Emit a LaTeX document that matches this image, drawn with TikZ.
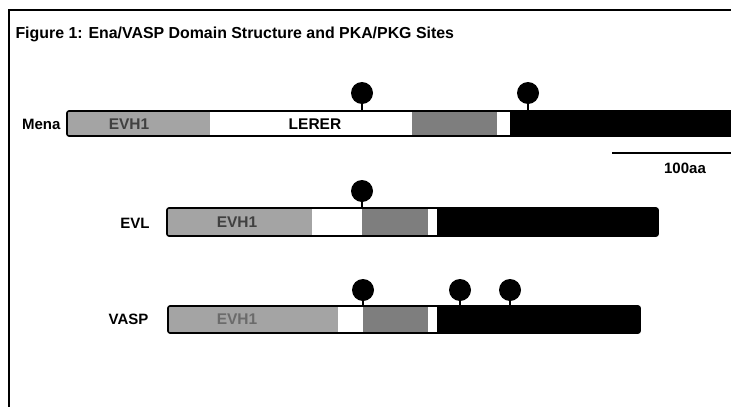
\documentclass[tikz,border=0pt]{standalone}
\usepackage{fontspec}
\setmainfont{Liberation Sans}
\usepackage{tikz}
\definecolor{EvhGray}{HTML}{A4A4A4}
\definecolor{ProGray}{HTML}{7E7E7E}

\begin{document}
\begin{tikzpicture}[x=1pt,y=-1pt,
  evh/.style={fill=EvhGray},
  pro/.style={fill=ProGray},
  tail/.style={fill=black},
  barline/.style={draw=black,line width=1.6pt,rounded corners=2pt},
  site/.style={circle,fill=black,inner sep=0pt,minimum size=22pt},
  stem/.style={line width=1.6pt},
  lbl/.style={font=\bfseries\fontsize{15}{15}\selectfont},
  dom/.style={font=\bfseries\fontsize{15.5}{15.5}\selectfont}]
  \clip (0,0) rectangle (731,407);
  \fill[white] (0,0) rectangle (731,407);
  \draw[line width=2.5pt] (9,410) -- (9,10) -- (735,10);
  \node[anchor=base west,font=\bfseries\fontsize{15.9}{17}\selectfont] (title) at (12,38)
    {Figure 1: Ena/VASP Domain Structure and PKA/PKG Sites};

  % Mena
  \fill[evh] (67,111) rectangle (210,136);
  \fill[white] (210,111) rectangle (412,136);
  \fill[pro] (412,111) rectangle (497,136);
  \fill[white] (497,111) rectangle (510,136);
  \fill[tail] (510,111) rectangle (740,136);
  \draw[barline] (67,111) rectangle (740,136);
  \coordinate (menatop) at (0,111);
  \node[lbl,anchor=east] (mena) at (64,124) {Mena};
  \node[dom,black!75] (menaevh) at (129,124) {EVH1};
  \node[dom] (lerer) at (315,124) {LERER};
  \node[site] (ms1) at (362,93) {};
  \node[site] (ms2) at (528,93) {};
  \foreach \s in {ms1,ms2}
    \draw[stem] (\s.south) -- (\s |- menatop);

  % scale bar
  \coordinate (sbl) at (612,153);
  \coordinate (sbr) at (740,153);
  \draw[line width=1.6pt] (sbl) -- (sbr);
  \node[lbl] (scale) at (685,168) {100aa};

  % EVL
  \fill[evh] (167,208) rectangle (312,236);
  \fill[white] (312,208) rectangle (362,236);
  \fill[pro] (362,208) rectangle (428,236);
  \fill[white] (428,208) rectangle (437,236);
  \fill[tail] (437,208) rectangle (658,236);
  \draw[barline] (167,208) rectangle (658,236);
  \coordinate (evltop) at (0,208);
  \node[lbl,anchor=east] (evl) at (153,223) {EVL};
  \node[dom,black!75] (evlevh) at (237,222) {EVH1};
  \node[site] (es1) at (362,191) {};
  \draw[stem] (es1.south) -- (es1 |- evltop);

  % VASP
  \fill[evh] (168,306) rectangle (338,333);
  \fill[white] (338,306) rectangle (363,333);
  \fill[pro] (363,306) rectangle (428,333);
  \fill[white] (428,306) rectangle (437,333);
  \fill[tail] (437,306) rectangle (640,333);
  \draw[barline] (168,306) rectangle (640,333);
  \coordinate (vasptop) at (0,306);
  \node[lbl,anchor=east] (vasp) at (152,319) {VASP};
  \node[dom,black!35!EvhGray] (vaspevh) at (237,319) {EVH1};
  \node[site] (vs1) at (363,290) {};
  \node[site] (vs2) at (460,290) {};
  \node[site] (vs3) at (510,290) {};
  \foreach \s in {vs1,vs2,vs3}
    \draw[stem] (\s.south) -- (\s |- vasptop);
\end{tikzpicture}
\end{document}
